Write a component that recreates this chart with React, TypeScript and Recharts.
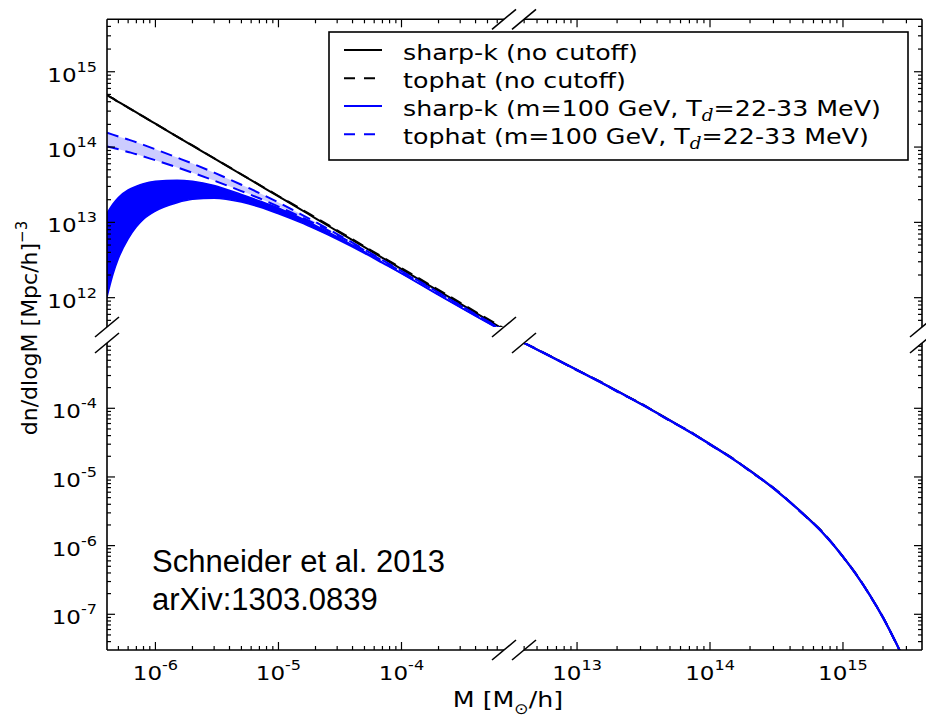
import React from 'react';
import { ComposedChart, Line, Area, XAxis, YAxis } from 'recharts';

// ---------------- data ----------------
// small-mass panel (M in M_sun/h), dn/dlogM in (Mpc/h)^-3
const massSmall = [4.04e-7, 4.5e-7, 5e-7, 6e-7, 7e-7, 8e-7, 1e-6, 1.5e-6, 2e-6, 3e-6, 5e-6, 7e-6, 1e-5, 1.5e-5, 2e-5, 3e-5, 5e-5, 7e-5, 1e-4, 2e-4, 4e-4, 6.81e-4];
const sharpKNoCutSmall = [4.9e14, 4.42e14, 3.98e14, 3.34e14, 2.88e14, 2.53e14, 2.04e14, 1.38e14, 1.045e14, 7.06e13, 4.32e13, 3.12e13, 2.21e13, 1.5e13, 1.13e13, 7.66e12, 4.68e12, 3.38e12, 2.4e12, 1.23e12, 6.3e11, 3.77e11];
const tophatNoCutSmall = [4.9e14, 4.42e14, 3.98e14, 3.34e14, 2.88e14, 2.53e14, 2.04e14, 1.38e14, 1.05e14, 7.1e13, 4.35e13, 3.15e13, 2.24e13, 1.53e13, 1.16e13, 7.85e12, 4.8e12, 3.47e12, 2.47e12, 1.27e12, 6.5e11, 3.9e11];
const sharpKCutHighSmall = [1.32e13, 1.74e13, 2.14e13, 2.69e13, 3.02e13, 3.27e13, 3.51e13, 3.63e13, 3.51e13, 3.09e13, 2.34e13, 1.93e13, 1.55e13, 1.15e13, 9.12e12, 6.46e12, 4.07e12, 2.95e12, 2.11e12, 1.1e12, 5.75e11, 3.55e11];
const sharpKCutLowSmall = [1.02e12, 2.0e12, 3.31e12, 6.03e12, 8.71e12, 1.1e13, 1.41e13, 1.82e13, 2.02e13, 2.09e13, 1.86e13, 1.6e13, 1.3e13, 1.0e13, 8.13e12, 5.96e12, 3.89e12, 2.88e12, 2.09e12, 1.08e12, 5.69e11, 3.51e11];
const tophatCutHighSmall = [1.55e14, 1.46e14, 1.38e14, 1.26e14, 1.16e14, 1.07e14, 9.33e13, 7.24e13, 6.03e13, 4.57e13, 3.16e13, 2.45e13, 1.84e13, 1.3e13, 1.01e13, 7.0e12, 4.37e12, 3.16e12, 2.26e12, 1.17e12, 6.03e11, 3.67e11];
const tophatCutLowSmall = [1.02e14, 9.77e13, 9.33e13, 8.61e13, 8.04e13, 7.5e13, 6.68e13, 5.37e13, 4.57e13, 3.59e13, 2.6e13, 2.09e13, 1.62e13, 1.2e13, 9.55e12, 6.76e12, 4.27e12, 3.09e12, 2.21e12, 1.16e12, 5.96e11, 3.63e11];

// large-mass panel
const massLarge = [4e12, 6e12, 1e13, 1.5e13, 2e13, 3e13, 5e13, 7e13, 1e14, 1.5e14, 2e14, 3e14, 5e14, 7e14, 1e15, 1.3e15, 1.6e15, 2e15, 2.5e15, 3e15, 3.2e15];
const sharpKLarge = [8.91e-4, 5.98e-4, 3.61e-4, 2.39e-4, 1.78e-4, 1.16e-4, 6.65e-5, 4.55e-5, 2.99e-5, 1.8e-5, 1.23e-5, 6.84e-6, 2.92e-6, 1.55e-6, 6.92e-7, 3.45e-7, 1.87e-7, 8.95e-8, 3.87e-8, 1.82e-8, 1.38e-8];
const tophatLarge = [8.95e-4, 6.05e-4, 3.57e-4, 2.43e-4, 1.75e-4, 1.18e-4, 6.55e-5, 4.62e-5, 2.95e-5, 1.83e-5, 1.21e-5, 6.95e-6, 2.88e-6, 1.58e-6, 6.85e-7, 3.5e-7, 1.85e-7, 9.05e-8, 3.84e-8, 1.84e-8, 1.37e-8];
const sharpKNoCutLarge = [8.93e-4, 6.0e-4, 3.62e-4, 2.4e-4, 1.79e-4, 1.165e-4, 6.68e-5, 4.57e-5, 3.0e-5, 1.81e-5, 1.235e-5, 6.86e-6, 2.93e-6, 1.56e-6, 6.94e-7, 3.46e-7, 1.88e-7, 8.98e-8, 3.88e-8, 1.83e-8, 1.39e-8];
const tophatNoCutLarge = [8.97e-4, 6.06e-4, 3.58e-4, 2.44e-4, 1.76e-4, 1.185e-4, 6.57e-5, 4.64e-5, 2.96e-5, 1.84e-5, 1.215e-5, 6.97e-6, 2.89e-6, 1.59e-6, 6.87e-7, 3.51e-7, 1.86e-7, 9.07e-8, 3.85e-8, 1.85e-8, 1.38e-8];

// axis domains and major tick labels
const xSmallDomain = [4.04e-7, 6.81e-4];
const xLargeDomain = [3.99e12, 3.93e15];
const yHighDomain = [4.08e11, 4.97e15];
const yLowDomain = [3.02e-8, 8.93e-4];
const xSmallMajor = [1e-6, 1e-5, 1e-4];
const xLargeMajor = [1e13, 1e14, 1e15];
const yHighMajor = [1e12, 1e13, 1e14, 1e15];
const yLowMajor = [1e-7, 1e-6, 1e-5, 1e-4];

const legendLabels = [
  'sharp-k (no cutoff)',
  'tophat (no cutoff)',
  'sharp-k (m=100 GeV, T',
  'tophat (m=100 GeV, T',
];
const annotation = ['Schneider et al. 2013', 'arXiv:1303.0839'];

// ---------------- layout ----------------
const W = 926;
const H = 723;
const PL = 107, PR = 922, PT = 19.3, PB = 650;
const XBL = 504, XBR = 524, YBT = 327, YBB = 343;
const BLUE = '#0000ff';
const FONT = 'DejaVu Sans';
const STRETCH = 1.15; // figure text is horizontally stretched

function logTicks(domain: number[], majors: number[]): number[] {
  const out: number[] = [];
  const e0 = Math.floor(Math.log10(domain[0]));
  const e1 = Math.ceil(Math.log10(domain[1]));
  for (let e = e0; e <= e1; e++) {
    for (let d = 1; d <= 9; d++) {
      const v = d === 1 ? majors.find((m) => Math.round(Math.log10(m)) === e) ?? Math.pow(10, e) : d * Math.pow(10, e);
      if (v > domain[0] * 1.0001 && v < domain[1] * 0.9999) out.push(v);
    }
  }
  return out;
}

const isMajor = (v: number) => Math.abs(Math.log10(v) - Math.round(Math.log10(v))) < 1e-6;

function TickMark(props: any) {
  const { x, y, payload, side, showLabel } = props;
  const v = payload.value;
  const major = isMajor(v);
  const len = major ? 8 : 4;
  const exp = String(Math.round(Math.log10(v)));
  let line;
  let label = null;
  if (side === 'bottom') {
    line = <line x1={x} y1={y} x2={x} y2={y - len} stroke="#000" strokeWidth={1.2} />;
    if (showLabel && major)
      label = (
        <text
          transform={`translate(${x} ${y + 30}) scale(${STRETCH} 1)`}
          textAnchor="middle"
          fontFamily={FONT}
          fontSize={20}
          fill="#000"
        >
          10<tspan dy={-10} fontSize={14}>{exp}</tspan>
        </text>
      );
  } else if (side === 'top') {
    line = <line x1={x} y1={y} x2={x} y2={y + len} stroke="#000" strokeWidth={1.2} />;
  } else if (side === 'left') {
    line = <line x1={x} y1={y} x2={x + len} y2={y} stroke="#000" strokeWidth={1.2} />;
    if (showLabel && major)
      label = (
        <text
          transform={`translate(${x - 10} ${y + 10}) scale(${STRETCH} 1)`}
          textAnchor="end"
          fontFamily={FONT}
          fontSize={20}
          fill="#000"
        >
          10<tspan dy={-10} fontSize={14}>{exp}</tspan>
        </text>
      );
  } else {
    line = <line x1={x} y1={y} x2={x - len} y2={y} stroke="#000" strokeWidth={1.2} />;
  }
  return (
    <g>
      {line}
      {label}
    </g>
  );
}

type PanelProps = {
  box: { left: number; right: number; top: number; bottom: number };
  xDomain: number[];
  yDomain: number[];
  xMajor: number[];
  yMajor: number[];
  xSide: 'top' | 'bottom';
  ySide: 'left' | 'right';
  xLabels: boolean;
  yLabels: boolean;
  data: any[];
  children?: React.ReactNode;
};

function Panel(p: PanelProps) {
  const margin = {
    top: p.box.top - (p.xSide === 'top' ? 1 : 0),
    bottom: H - p.box.bottom - (p.xSide === 'bottom' ? 1 : 0),
    left: p.box.left - (p.ySide === 'left' ? 1 : 0),
    right: W - p.box.right - (p.ySide === 'right' ? 1 : 0),
  };
  const xTicks = logTicks(p.xDomain, p.xMajor);
  const yTicks = logTicks(p.yDomain, p.yMajor);
  return (
    <div style={{ position: 'absolute', left: 0, top: 0 }}>
      <ComposedChart width={W} height={H} data={p.data} margin={margin}>
        <XAxis
          dataKey="m"
          type="number"
          scale="log"
          domain={p.xDomain}
          allowDataOverflow
          ticks={xTicks}
          interval={0}
          orientation={p.xSide}
          height={1}
          tickSize={0}
          tickMargin={0}
          tickLine={false}
          axisLine={{ stroke: '#000', strokeWidth: 1.6 }}
          tick={(t: any) => <TickMark {...t} side={p.xSide} showLabel={p.xLabels} />}
        />
        <YAxis
          type="number"
          scale="log"
          domain={p.yDomain}
          allowDataOverflow
          ticks={yTicks}
          interval={0}
          orientation={p.ySide}
          width={1}
          tickSize={0}
          tickMargin={0}
          tickLine={false}
          axisLine={{ stroke: '#000', strokeWidth: 1.6 }}
          tick={(t: any) => <TickMark {...t} side={p.ySide} showLabel={p.yLabels} />}
        />
        {p.children}
      </ComposedChart>
    </div>
  );
}

const smallTable = massSmall.map((m, i) => ({
  m,
  skNo: sharpKNoCutSmall[i],
  thNo: tophatNoCutSmall[i],
  skBand: [sharpKCutLowSmall[i], sharpKCutHighSmall[i]],
  skLo: sharpKCutLowSmall[i],
  skHi: sharpKCutHighSmall[i],
  thBand: [tophatCutLowSmall[i], tophatCutHighSmall[i]],
  thLo: tophatCutLowSmall[i],
  thHi: tophatCutHighSmall[i],
}));

const largeTable = massLarge.map((m, i) => ({
  m,
  skNo: sharpKNoCutLarge[i],
  thNo: tophatNoCutLarge[i],
  sk: sharpKLarge[i],
  th: tophatLarge[i],
}));

const DASH = '12 7';

function BreakMark({ cx, cy }: { cx: number; cy: number }) {
  return <line x1={cx - 12} y1={cy + 10} x2={cx + 12} y2={cy - 10} stroke="#000" strokeWidth={1.6} />;
}

export default function App() {
  const breaks = [
    [XBL, PT], [XBR, PT], [XBL, PB], [XBR, PB],
    [PL, YBT], [PL, YBB], [PR, YBT], [PR, YBB],
    [XBL, YBT], [XBR, YBB],
  ];
  const legendRows = [
    { y: 50, color: '#000', dash: undefined as string | undefined, sub: false },
    { y: 78.3, color: '#000', dash: '11 9', sub: false },
    { y: 106, color: BLUE, dash: undefined, sub: true },
    { y: 134.3, color: BLUE, dash: '11 9', sub: true },
  ];
  return (
    <div style={{ position: 'absolute', left: 0, top: 0, width: W, height: H, background: '#fff' }}>
      {/* upper-left: small masses, high densities */}
      <Panel
        box={{ left: PL, right: XBL, top: PT, bottom: YBT }}
        xDomain={xSmallDomain}
        yDomain={yHighDomain}
        xMajor={xSmallMajor}
        yMajor={yHighMajor}
        xSide="top"
        ySide="left"
        xLabels={false}
        yLabels={true}
        data={smallTable}
      >
        <Area dataKey="thBand" type="monotone" fill={BLUE} fillOpacity={0.2} stroke="none" isAnimationActive={false} />
        <Area dataKey="skBand" type="monotone" fill={BLUE} fillOpacity={1} stroke="none" isAnimationActive={false} />
        <Line dataKey="skNo" type="monotone" stroke="#000" strokeWidth={2} dot={false} isAnimationActive={false} />
        <Line dataKey="thNo" type="monotone" stroke="#000" strokeWidth={2} strokeDasharray={DASH} dot={false} isAnimationActive={false} />
        <Line dataKey="skHi" type="monotone" stroke={BLUE} strokeWidth={1.5} dot={false} isAnimationActive={false} />
        <Line dataKey="skLo" type="monotone" stroke={BLUE} strokeWidth={1.5} dot={false} isAnimationActive={false} />
        <Line dataKey="thHi" type="monotone" stroke={BLUE} strokeWidth={2} strokeDasharray={DASH} dot={false} isAnimationActive={false} />
        <Line dataKey="thLo" type="monotone" stroke={BLUE} strokeWidth={2} strokeDasharray={DASH} dot={false} isAnimationActive={false} />
      </Panel>
      {/* upper-right: empty */}
      <Panel
        box={{ left: XBR, right: PR, top: PT, bottom: YBT }}
        xDomain={xLargeDomain}
        yDomain={yHighDomain}
        xMajor={xLargeMajor}
        yMajor={yHighMajor}
        xSide="top"
        ySide="right"
        xLabels={false}
        yLabels={false}
        data={[]}
      />
      {/* lower-left: empty */}
      <Panel
        box={{ left: PL, right: XBL, top: YBB, bottom: PB }}
        xDomain={xSmallDomain}
        yDomain={yLowDomain}
        xMajor={xSmallMajor}
        yMajor={yLowMajor}
        xSide="bottom"
        ySide="left"
        xLabels={true}
        yLabels={true}
        data={[]}
      />
      {/* lower-right: large masses, low densities */}
      <Panel
        box={{ left: XBR, right: PR, top: YBB, bottom: PB }}
        xDomain={xLargeDomain}
        yDomain={yLowDomain}
        xMajor={xLargeMajor}
        yMajor={yLowMajor}
        xSide="bottom"
        ySide="right"
        xLabels={true}
        yLabels={false}
        data={largeTable}
      >
        <Line dataKey="skNo" type="monotone" stroke="#000" strokeWidth={2} dot={false} isAnimationActive={false} />
        <Line dataKey="thNo" type="monotone" stroke="#000" strokeWidth={2} strokeDasharray={DASH} dot={false} isAnimationActive={false} />
        <Line dataKey="sk" type="monotone" stroke={BLUE} strokeWidth={2.2} dot={false} isAnimationActive={false} />
        <Line dataKey="th" type="monotone" stroke={BLUE} strokeWidth={2} strokeDasharray={DASH} dot={false} isAnimationActive={false} />
      </Panel>
      {/* overlay: break marks, titles, legend, annotation */}
      <svg width={W} height={H} style={{ position: 'absolute', left: 0, top: 0, pointerEvents: 'none' }}>
        {breaks.map(([cx, cy], i) => (
          <BreakMark key={i} cx={cx} cy={cy} />
        ))}
        <text
          transform={`translate(508 707) scale(${STRETCH} 1)`}
          textAnchor="middle"
          fontFamily={FONT}
          fontSize={22}
          fill="#000"
        >
          M [M<tspan dy={7} fontSize={15}>⊙</tspan>
          <tspan dy={-7}>/h]</tspan>
        </text>
        <text
          x={37}
          y={328}
          textAnchor="middle"
          fontFamily={FONT}
          fontSize={22}
          fill="#000"
          transform="rotate(-90 37 328)"
        >
          dn/dlogM [Mpc/h]<tspan dy={-10} fontSize={15}>−3</tspan>
        </text>
        <rect x={329} y={32} width={579} height={128} fill="#fff" stroke="#000" strokeWidth={1.6} />
        {legendRows.map((r, i) => (
          <g key={i}>
            <line x1={344} y1={r.y} x2={382} y2={r.y} stroke={r.color} strokeWidth={2} strokeDasharray={r.dash} />
            <text
              transform={`translate(403 ${r.y + 9.7}) scale(${STRETCH} 1)`}
              fontFamily={FONT}
              fontSize={22}
              fill="#000"
            >
              {legendLabels[i]}
              {r.sub ? (
                <>
                  <tspan dy={5} fontFamily="DejaVu Serif" fontStyle="italic" fontSize={16}>d</tspan>
                  <tspan dy={-5}>=22-33 MeV)</tspan>
                </>
              ) : null}
            </text>
          </g>
        ))}
        <text x={152} y={572} fontFamily="Liberation Sans" fontSize={31} fill="#000">
          {annotation[0]}
        </text>
        <text x={152} y={610} fontFamily="Liberation Sans" fontSize={31} fill="#000">
          {annotation[1]}
        </text>
      </svg>
    </div>
  );
}
